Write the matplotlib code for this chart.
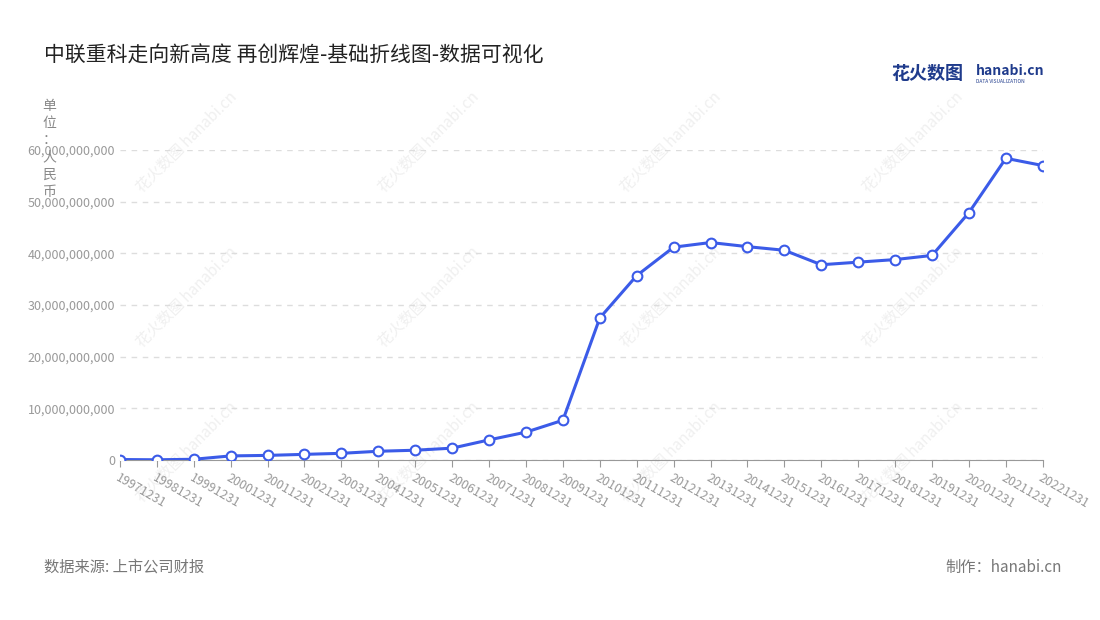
import matplotlib
matplotlib.use("Agg")
import matplotlib.pyplot as plt
from matplotlib.ticker import FuncFormatter

plt.rcParams['font.family'] = ['Noto Sans CJK SC', 'DejaVu Sans']

dates = ["19971231","19981231","19991231","20001231","20011231","20021231","20031231",
         "20041231","20051231","20061231","20071231","20081231","20091231","20101231",
         "20111231","20121231","20131231","20141231","20151231","20161231","20171231",
         "20181231","20191231","20201231","20211231","20221231"]
values_bn = [0.1,0.05,0.15,0.8,0.9,1.1,1.3,1.7,1.9,2.3,3.9,5.4,7.7,27.5,35.7,41.2,42.1,
             41.3,40.6,37.8,38.3,38.8,39.6,47.9,58.4,57.0]
values = [v*1e9 for v in values_bn]
title = "中联重科走向新高度 再创辉煌-基础折线图-数据可视化"

fig = plt.figure(figsize=(11, 6.2), dpi=100)
ax = fig.add_axes([0.109, 0.258, 0.839, 0.5])
ax.set_zorder(2)
ax.patch.set_alpha(0)
x = list(range(len(dates)))
ax.plot(x, values, color='#3b5be8', lw=2.2, marker='o', ms=7,
        markerfacecolor='white', markeredgecolor='#3b5be8', markeredgewidth=1.5, zorder=3)
ax.set_xlim(0, len(dates)-1)
ax.set_ylim(0, 60e9)
ax.set_yticks([i*1e10 for i in range(7)])
ax.yaxis.set_major_formatter(FuncFormatter(lambda v, p: f"{int(v):,}"))
ax.set_xticks(x)
ax.set_xticklabels(dates, rotation=-30, ha='left', rotation_mode='anchor')
ax.tick_params(axis='both', labelsize=9, colors='#999999', length=0)
ax.tick_params(axis='x', length=5, color='#999999', pad=3)
ax.grid(axis='y', ls=(0, (4, 4)), color='#dddddd', lw=1)
for s in ['top', 'right', 'left']:
    ax.spines[s].set_visible(False)
ax.spines['bottom'].set_color('#999999')

fig.text(0.04, 0.91, title, fontsize=15, color='#222222', va='center')
fig.text(0.045, 0.76, "单\n位\n：\n人\n民\n币", fontsize=10, color='#888888', va='center', ha='center', linespacing=1.3)
fig.text(0.04, 0.085, "数据来源: 上市公司财报", fontsize=11, color='#777777', va='center')
fig.text(0.965, 0.085, "制作：hanabi.cn", fontsize=11, color='#777777', va='center', ha='right')
fig.text(0.81, 0.882, "花火数图", fontsize=13, color='#1f3b8c', weight='bold', va='center')
fig.text(0.887, 0.885, "hanabi.cn", fontsize=10, color='#1f3b8c', weight='bold', va='center')
fig.text(0.887, 0.868, "DATA VISUALIZATION", fontsize=3.5, color='#1f3b8c', va='center')

for wx in [0.17, 0.39, 0.61, 0.83]:
    for wy in [0.77, 0.52, 0.27]:
        fig.text(wx, wy, "花火数图 hanabi.cn", fontsize=11, color='#f0f0f0', rotation=45,
                 ha='center', va='center', zorder=0)

fig.savefig("out.png", dpi=100)
